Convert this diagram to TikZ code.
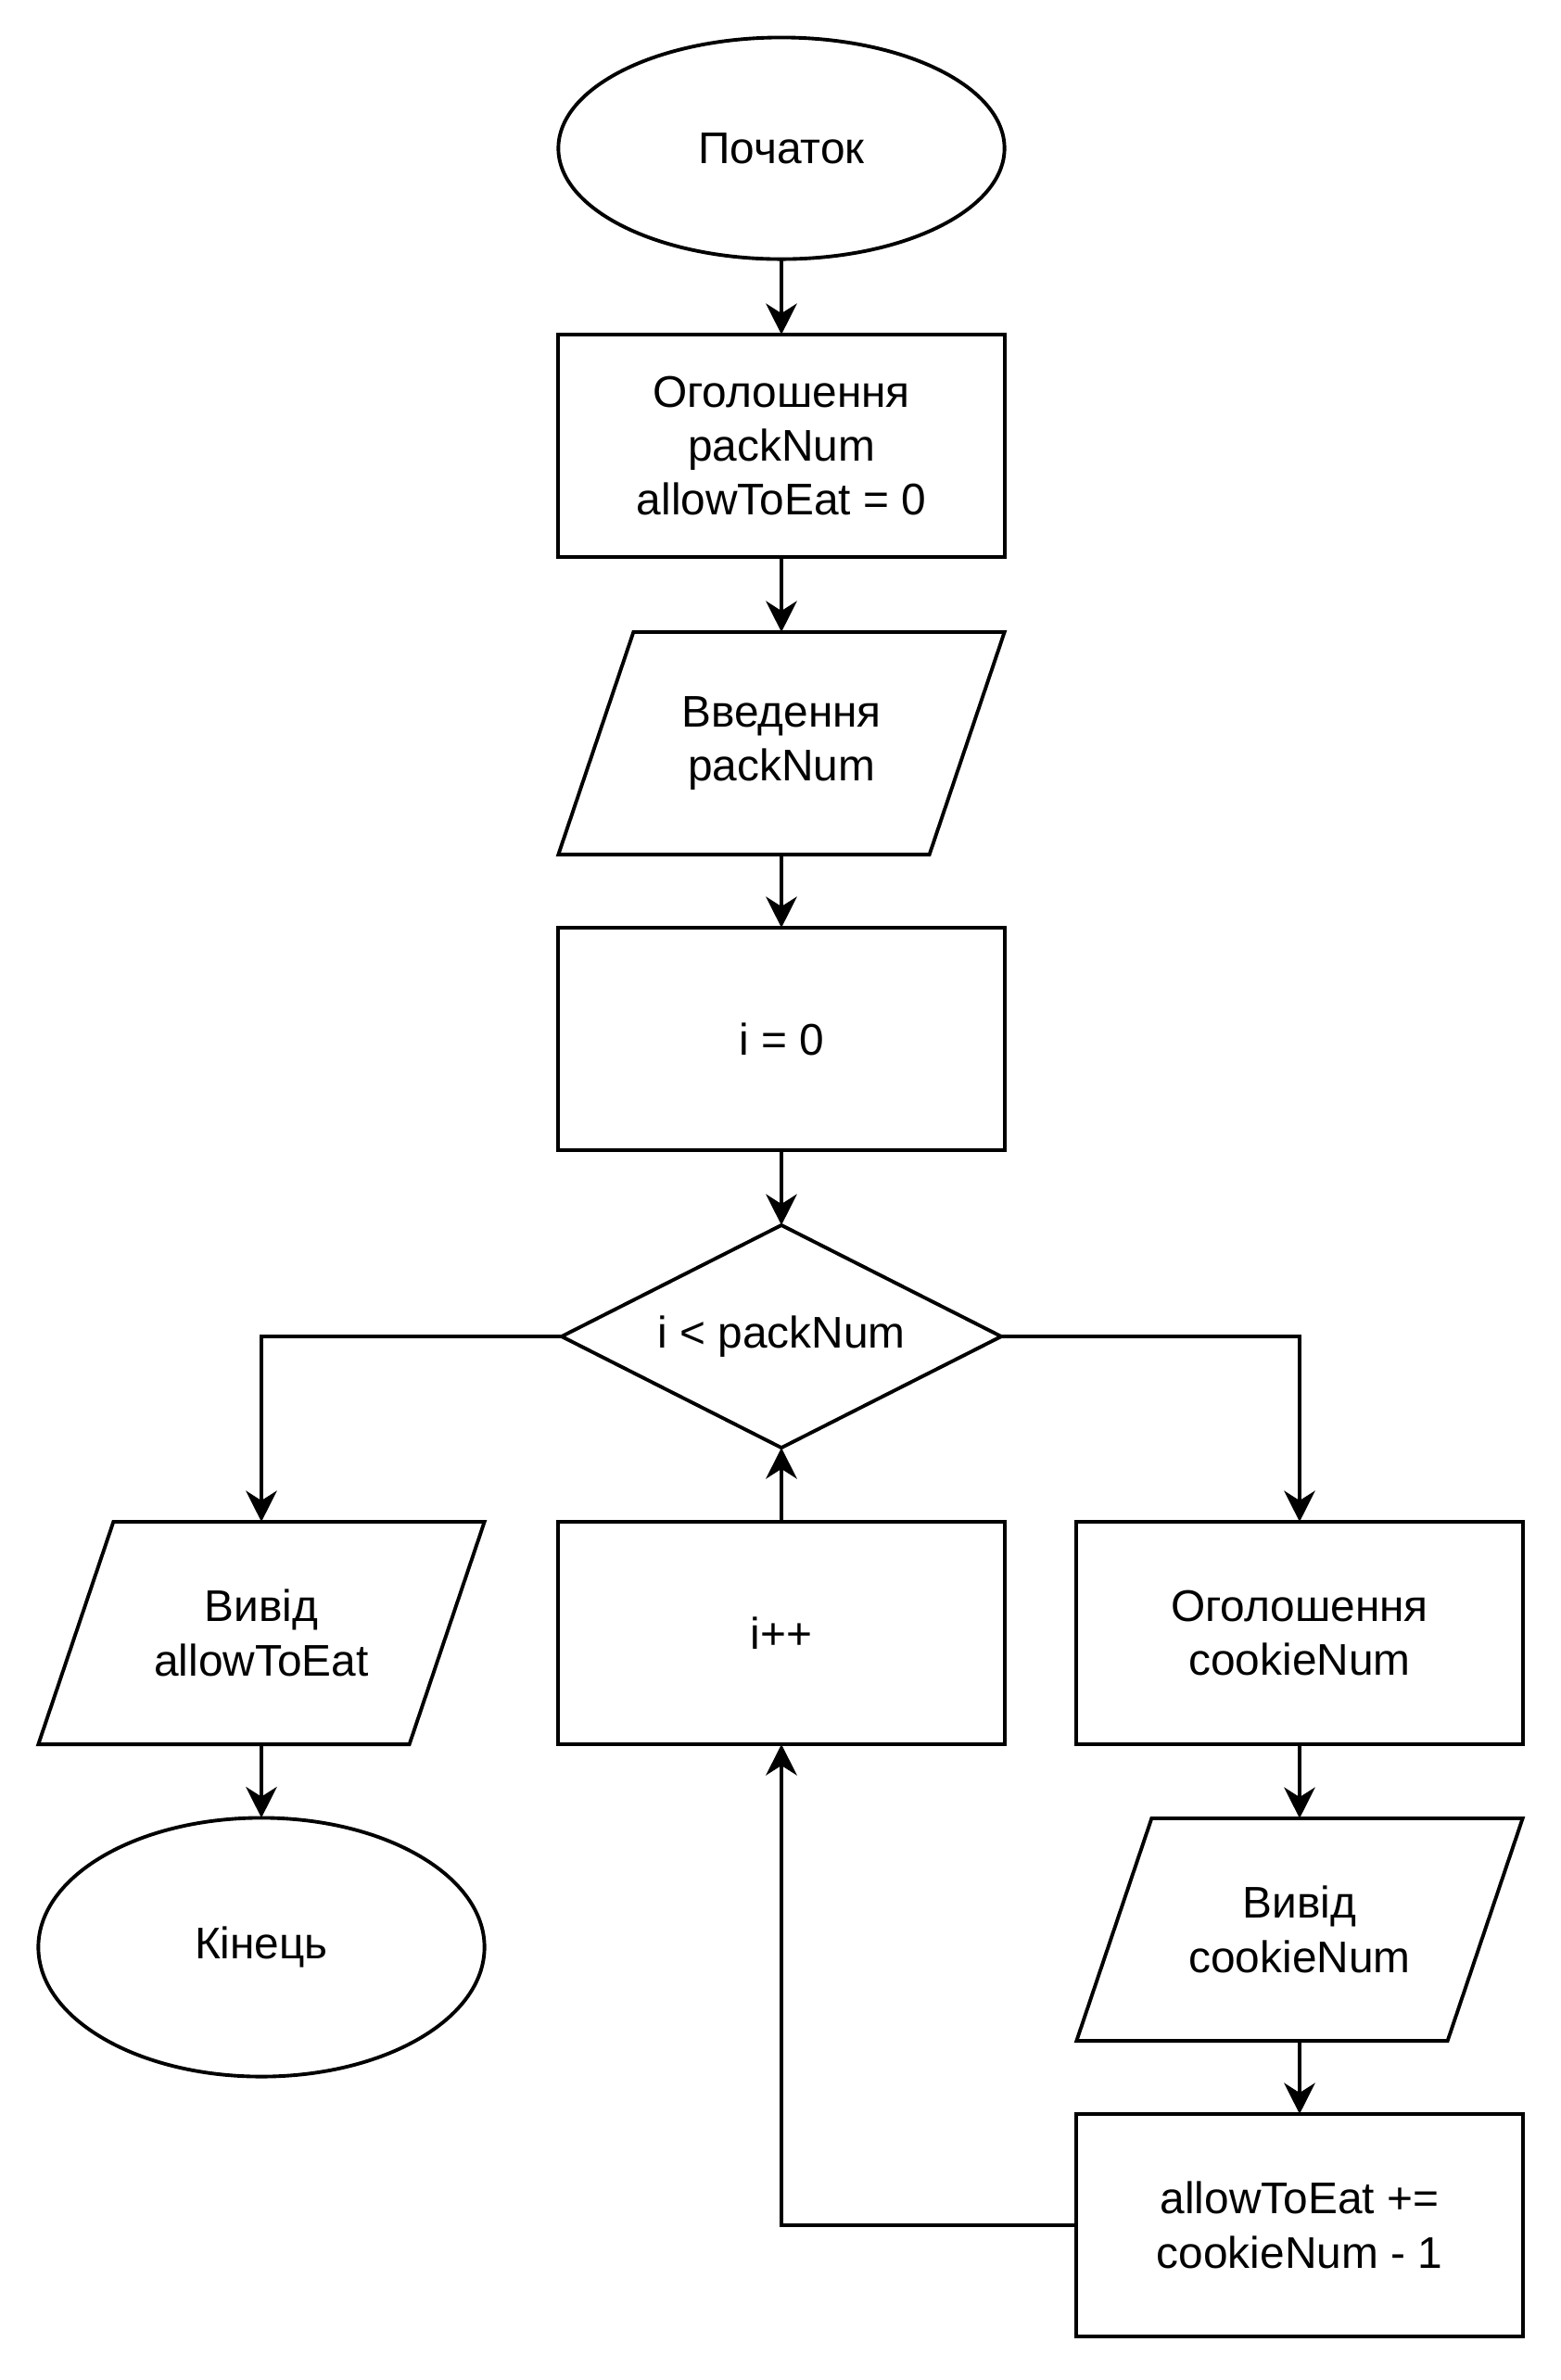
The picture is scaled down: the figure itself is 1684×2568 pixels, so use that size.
\documentclass[tikz,border=0pt]{standalone}
\usepackage{fontspec}
\setmainfont{Liberation Sans}
\usetikzlibrary{shapes.geometric,arrows.meta,calc}
\begin{document}
\begin{tikzpicture}[x=0.01cm,y=-0.01cm,
  base/.style={draw=black,line width=1.1pt,inner sep=0pt,outer sep=0pt,align=center,
    font=\fontsize{13.6pt}{16.6pt}\selectfont,text=black},
  proc/.style={base,rectangle,minimum width=4.81cm,minimum height=2.40cm},
  io/.style={base,rectangle,draw=none,minimum width=4.81cm,minimum height=2.40cm},
  term/.style={base,ellipse,minimum width=4.81cm,minimum height=2.39cm},
  decision/.style={base,diamond,aspect=2,minimum width=4.74cm,minimum height=2.40cm},
  flow/.style={line width=1.1pt,-{Stealth[length=9.5pt,width=9.5pt,inset=3pt]}}
]
\useasboundingbox (0,0) rectangle (1684,2568);

% main column
\node[term] (start) at (843,160) {Початок};
\node[proc] (decl1) at (843,481) {Оголошення\\packNum\\allowToEat = 0};
\node[io]   (inp)   at (843,802) {Введення\\packNum};
\node[proc] (init)  at (843,1121) {i = 0};
\node[decision] (cond) at (843,1442) {i < packNum};
\node[proc] (inc)   at (843,1762) {i++};

% exit branch
\node[io]   (outA)  at (282,1762) {Вивід\\allowToEat};
\node[term,minimum height=2.79cm] (fin) at (282,2101) {Кінець};

% loop body
\node[proc] (decl2) at (1402,1762) {Оголошення\\cookieNum};
\node[io]   (outC)  at (1402,2082) {Вивід\\cookieNum};
\node[proc] (upd)   at (1402,2401) {allowToEat +=\\cookieNum - 1};

% input/output parallelograms
\foreach \n in {inp,outA,outC}
  \draw[line width=1.1pt]
    ($(\n.north west)+(81,0)$) -- (\n.north east)
    -- ($(\n.south east)+(-81,0)$) -- (\n.south west) -- cycle;

% connectors
\draw[flow] (start) -- (decl1);
\draw[flow] (decl1) -- (inp);
\draw[flow] (inp) -- (init);
\draw[flow] (init) -- (cond);
\draw[flow] (cond.west) -| (outA.north);
\draw[flow] (cond.east) -| (decl2.north);
\draw[flow] (outA) -- (fin);
\draw[flow] (decl2) -- (outC);
\draw[flow] (outC) -- (upd);
\draw[flow] (upd.west) -| (inc.south);
\draw[flow] (inc) -- (cond);
\end{tikzpicture}
\end{document}
